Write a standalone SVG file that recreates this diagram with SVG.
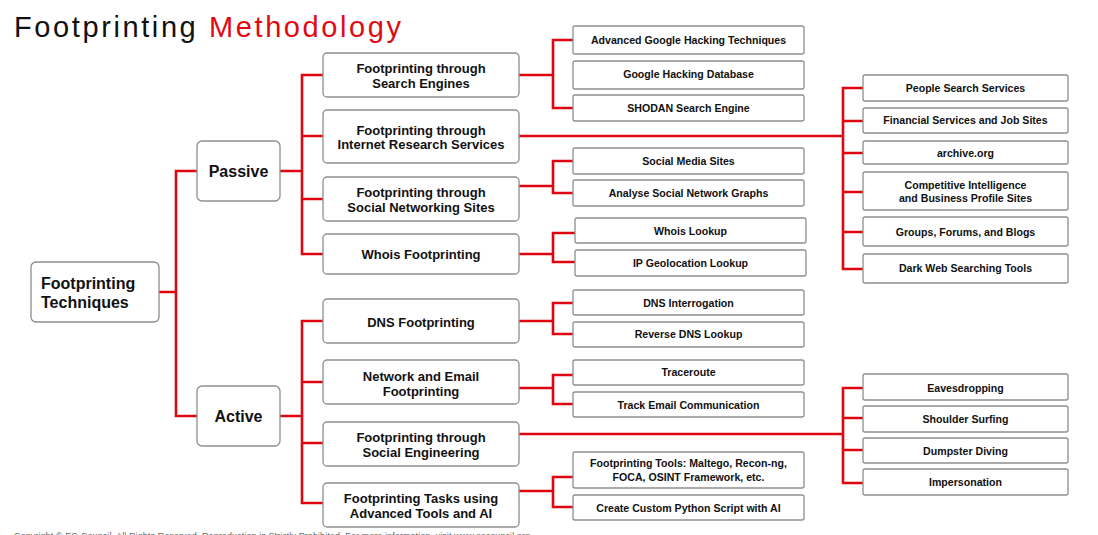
<svg xmlns="http://www.w3.org/2000/svg" width="1098" height="535" viewBox="0 0 1098 535">
<style>
.bg{fill:#ffffff}
.b{fill:#ffffff;stroke:#8e8e8e;stroke-width:1.3}
.c{fill:none;stroke:#e0060f;stroke-width:2.6}
text{font-family:"Liberation Sans",Arial,sans-serif;font-weight:bold;fill:#111}
.t1{font-size:16px}
.t2{font-size:13px;text-anchor:middle}
.t3{font-size:10.6px;text-anchor:middle}
.title{font-size:29px;font-weight:normal;letter-spacing:2.6px}
.copy{font-size:9px;font-weight:normal;fill:#666}
</style>
<rect class="bg" x="0" y="0" width="1098" height="535"/>
<text class="title" x="14" y="37"><tspan fill="#111">Footprinting </tspan><tspan fill="#e00a12">Methodology</tspan></text>

<g id="connectors">
<path class="c" d="M159,292 H176 M197,171 H176 V416 H197"/>
<path class="c" d="M280,171 H302 M323,75 H302 V254 H323 M302,136 H323 M302,199 H323"/>
<path class="c" d="M280,416 H302 M323,321 H302 V503 H323 M302,382 H323 M302,443 H323"/>
<path class="c" d="M519,75 H553 M573,40 H553 V108 H573"/>
<path class="c" d="M519,136 H843 M863,88 H843 V269 H863 M843,121 H863 M843,153 H863 M843,192 H863 M843,232 H863"/>
<path class="c" d="M519,186 H553 M573,161 H553 V193 H573"/>
<path class="c" d="M519,254 H553 M575,233 H553 V262 H575"/>
<path class="c" d="M519,321 H553 M573,303 H553 V334 H573"/>
<path class="c" d="M519,388 H553 M573,375 H553 V404 H573"/>
<path class="c" d="M519,434 H843 M863,388 H843 V483 H863 M843,418 H863 M843,450 H863"/>
<path class="c" d="M519,491 H553 M573,477 H553 V507 H573"/>
</g>

<g id="root"><rect class="b" x="31" y="262" width="128" height="60" rx="5"/><text class="t1" x="41" y="289">Footprinting</text><text class="t1" x="41" y="308">Techniques</text></g>
<g id="passive"><rect class="b" x="197" y="141" width="83" height="60" rx="5"/><text class="t1" x="238.5" y="177" text-anchor="middle">Passive</text></g>
<g id="active"><rect class="b" x="197" y="386" width="83" height="60" rx="5"/><text class="t1" x="238.5" y="422" text-anchor="middle">Active</text></g>

<g id="search-engines"><rect class="b" x="323" y="53" width="196" height="44" rx="4"/><text class="t2" x="421" y="73">Footprinting through</text><text class="t2" x="421" y="88">Search Engines</text></g>
<g id="internet-research"><rect class="b" x="323" y="110" width="196" height="53" rx="4"/><text class="t2" x="421" y="135">Footprinting through</text><text class="t2" x="421" y="149">Internet Research Services</text></g>
<g id="social-networking"><rect class="b" x="323" y="177" width="196" height="44" rx="4"/><text class="t2" x="421" y="197">Footprinting through</text><text class="t2" x="421" y="212">Social Networking Sites</text></g>
<g id="whois"><rect class="b" x="323" y="234" width="196" height="40" rx="4"/><text class="t2" x="421" y="259">Whois Footprinting</text></g>
<g id="dns"><rect class="b" x="323" y="299" width="196" height="44" rx="4"/><text class="t2" x="421" y="327">DNS Footprinting</text></g>
<g id="network-email"><rect class="b" x="323" y="360" width="196" height="44" rx="4"/><text class="t2" x="421" y="381">Network and Email</text><text class="t2" x="421" y="396">Footprinting</text></g>
<g id="social-engineering"><rect class="b" x="323" y="422" width="196" height="44" rx="4"/><text class="t2" x="421" y="442">Footprinting through</text><text class="t2" x="421" y="457">Social Engineering</text></g>
<g id="advanced-tools"><rect class="b" x="323" y="483" width="196" height="44" rx="4"/><text class="t2" x="421" y="503">Footprinting Tasks using</text><text class="t2" x="421" y="518">Advanced Tools and AI</text></g>

<g id="adv-google"><rect class="b" x="573" y="26" width="231" height="28" rx="2"/><text class="t3" x="688.5" y="44">Advanced Google Hacking Techniques</text></g>
<g id="ghdb"><rect class="b" x="573" y="61" width="231" height="28" rx="2"/><text class="t3" x="688.5" y="78">Google Hacking Database</text></g>
<g id="shodan"><rect class="b" x="573" y="95" width="231" height="26" rx="2"/><text class="t3" x="688.5" y="112">SHODAN Search Engine</text></g>
<g id="social-media"><rect class="b" x="573" y="148" width="231" height="26" rx="2"/><text class="t3" x="688.5" y="165">Social Media Sites</text></g>
<g id="analyse-graphs"><rect class="b" x="573" y="180" width="231" height="26" rx="2"/><text class="t3" x="688.5" y="197">Analyse Social Network Graphs</text></g>
<g id="whois-lookup"><rect class="b" x="575" y="218" width="231" height="25" rx="2"/><text class="t3" x="690.5" y="235">Whois Lookup</text></g>
<g id="ip-geo"><rect class="b" x="575" y="250" width="231" height="26" rx="2"/><text class="t3" x="690.5" y="267">IP Geolocation Lookup</text></g>
<g id="dns-interrogation"><rect class="b" x="573" y="290" width="231" height="25" rx="2"/><text class="t3" x="688.5" y="307">DNS Interrogation</text></g>
<g id="reverse-dns"><rect class="b" x="573" y="322" width="231" height="25" rx="2"/><text class="t3" x="688.5" y="338">Reverse DNS Lookup</text></g>
<g id="traceroute"><rect class="b" x="573" y="360" width="231" height="25" rx="2"/><text class="t3" x="688.5" y="376">Traceroute</text></g>
<g id="track-email"><rect class="b" x="573" y="392" width="231" height="25" rx="2"/><text class="t3" x="688.5" y="409">Track Email Communication</text></g>
<g id="fp-tools"><rect class="b" x="573" y="452" width="231" height="36" rx="2"/><text class="t3" x="688.5" y="467">Footprinting Tools: Maltego, Recon-ng,</text><text class="t3" x="688.5" y="481">FOCA, OSINT Framework, etc.</text></g>
<g id="python-ai"><rect class="b" x="573" y="495" width="231" height="25" rx="2"/><text class="t3" x="688.5" y="512">Create Custom Python Script with AI</text></g>

<g id="people-search"><rect class="b" x="863" y="75" width="205" height="26" rx="2"/><text class="t3" x="965.5" y="92">People Search Services</text></g>
<g id="financial"><rect class="b" x="863" y="108" width="205" height="25" rx="2"/><text class="t3" x="965.5" y="124">Financial Services and Job Sites</text></g>
<g id="archive"><rect class="b" x="863" y="141" width="205" height="23" rx="2"/><text class="t3" x="965.5" y="157">archive.org</text></g>
<g id="competitive"><rect class="b" x="863" y="172" width="205" height="38" rx="2"/><text class="t3" x="965.5" y="189">Competitive Intelligence</text><text class="t3" x="965.5" y="202">and Business Profile Sites</text></g>
<g id="groups"><rect class="b" x="863" y="217" width="205" height="29" rx="2"/><text class="t3" x="965.5" y="236">Groups, Forums, and Blogs</text></g>
<g id="dark-web"><rect class="b" x="863" y="254" width="205" height="29" rx="2"/><text class="t3" x="965.5" y="272">Dark Web Searching Tools</text></g>
<g id="eavesdropping"><rect class="b" x="863" y="374" width="205" height="26" rx="2"/><text class="t3" x="965.5" y="392">Eavesdropping</text></g>
<g id="shoulder"><rect class="b" x="863" y="406" width="205" height="26" rx="2"/><text class="t3" x="965.5" y="423">Shoulder Surfing</text></g>
<g id="dumpster"><rect class="b" x="863" y="438" width="205" height="25" rx="2"/><text class="t3" x="965.5" y="455">Dumpster Diving</text></g>
<g id="impersonation"><rect class="b" x="863" y="469" width="205" height="26" rx="2"/><text class="t3" x="965.5" y="486">Impersonation</text></g>

<text class="copy" x="14" y="539" textLength="516">Copyright © EC-Council. All Rights Reserved. Reproduction is Strictly Prohibited. For more information, visit www.eccouncil.org</text>
</svg>
